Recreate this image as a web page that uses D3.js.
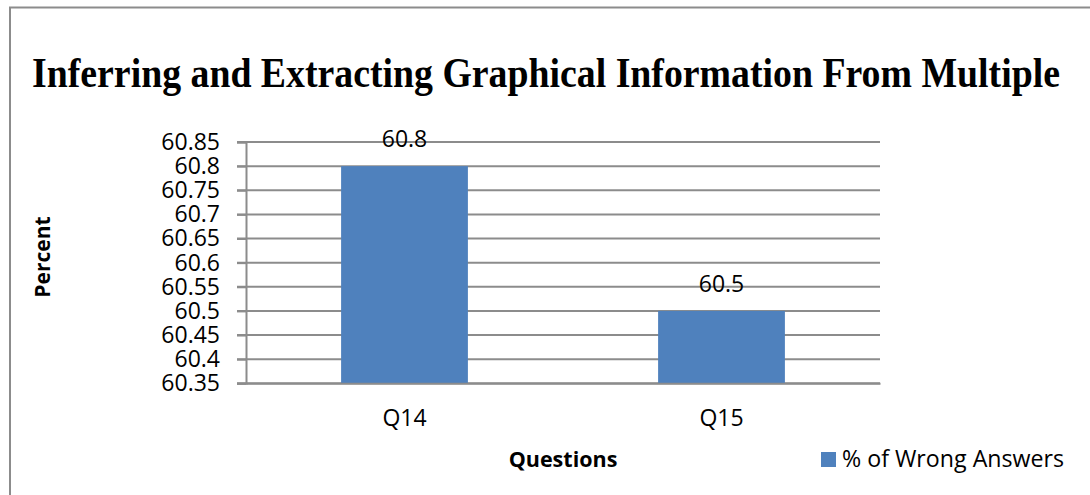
<!DOCTYPE html>
<html lang="en">
<head>
    <meta charset="UTF-8">
    <title>Wrong answers Q14 / Q15</title>
    <script src="https://d3js.org/d3.v7.min.js"></script>
    <style>
        body { margin: 0; background: #fff; }
        svg { display: block; }
        .tick text { font-family: "Open Sans", sans-serif; font-size: 23px; fill: #000; }
    </style>
</head>
<body>
    <svg width="1090" height="495"></svg>
    <script>
        // data
        const questions = ["Q14", "Q15"];
        const wrongPct = [60.8, 60.5];
        const yTicks = [60.35, 60.4, 60.45, 60.5, 60.55, 60.6, 60.65, 60.7, 60.75, 60.8, 60.85];
        const seriesName = "% of Wrong Answers";
        const chartTitle = "Inferring and Extracting Graphical Information From Multiple";

        const svg = d3.select("svg");
        const barColor = "#4f81bd";
        const gridColor = "#8c8c8c";

        // outer frame
        svg.append("rect")
            .attr("x", 10).attr("y", 7.5)
            .attr("width", 1100).attr("height", 500)
            .attr("fill", "none")
            .attr("stroke", gridColor)
            .attr("stroke-width", 2);

        // title
        svg.append("text")
            .attr("x", 32).attr("y", 87)
            .attr("font-family", "'Liberation Serif', 'Times New Roman', serif")
            .attr("font-weight", "bold")
            .attr("font-size", 42)
            .attr("textLength", 1028)
            .attr("lengthAdjust", "spacingAndGlyphs")
            .text(chartTitle);

        const x = d3.scaleBand()
            .domain(questions)
            .range([246, 880])
            .paddingInner(0.6)
            .paddingOuter(0.3);

        const y = d3.scaleLinear()
            .domain([60.35, 60.85])
            .range([383.3, 142]);

        // grid lines
        svg.append("g")
            .selectAll("line")
            .data(yTicks)
            .join("line")
            .attr("x1", 237).attr("x2", 880)
            .attr("y1", d => y(d)).attr("y2", d => y(d))
            .attr("stroke", gridColor)
            .attr("stroke-width", 2);

        // y axis
        const yAxis = svg.append("g")
            .attr("transform", "translate(246,0)")
            .call(d3.axisLeft(y).tickValues(yTicks).tickFormat(d => +d.toFixed(2)).tickSize(9).tickPadding(17));
        yAxis.select(".domain").attr("stroke", gridColor).attr("stroke-width", 2);
        yAxis.selectAll(".tick line").attr("stroke", gridColor).attr("stroke-width", 2);

        // bars
        svg.append("g")
            .selectAll("rect")
            .data(wrongPct)
            .join("rect")
            .attr("x", (d, i) => x(questions[i]))
            .attr("y", d => y(d))
            .attr("width", x.bandwidth())
            .attr("height", d => y(60.35) - y(d))
            .attr("fill", barColor);

        // data labels
        svg.append("g")
            .selectAll("text")
            .data(wrongPct)
            .join("text")
            .attr("x", (d, i) => x(questions[i]) + x.bandwidth() / 2)
            .attr("y", d => y(d) - 19)
            .attr("text-anchor", "middle")
            .attr("font-family", "'Open Sans', sans-serif")
            .attr("font-size", 23)
            .text(d => d);

        // x axis labels
        const xAxis = svg.append("g")
            .attr("transform", "translate(0,383.3)")
            .call(d3.axisBottom(x).tickSize(0).tickPadding(26));
        xAxis.select(".domain").attr("stroke", gridColor).attr("stroke-width", 2);

        // axis titles
        svg.append("text")
            .attr("x", 563).attr("y", 467)
            .attr("text-anchor", "middle")
            .attr("font-family", "'Open Sans', sans-serif")
            .attr("font-weight", "bold")
            .attr("font-size", 21.5)
            .text("Questions");

        svg.append("text")
            .attr("transform", "translate(50,257) rotate(-90)")
            .attr("text-anchor", "middle")
            .attr("font-family", "'Open Sans', sans-serif")
            .attr("font-weight", "bold")
            .attr("font-size", 21)
            .text("Percent");

        // legend
        const legend = svg.append("g").attr("transform", "translate(821,452)");
        legend.append("rect")
            .attr("width", 15).attr("height", 15)
            .attr("fill", barColor);
        legend.append("text")
            .attr("x", 21).attr("y", 15)
            .attr("font-family", "'Open Sans', sans-serif")
            .attr("font-size", 23.2)
            .text(seriesName);
    </script>
</body>
</html>
